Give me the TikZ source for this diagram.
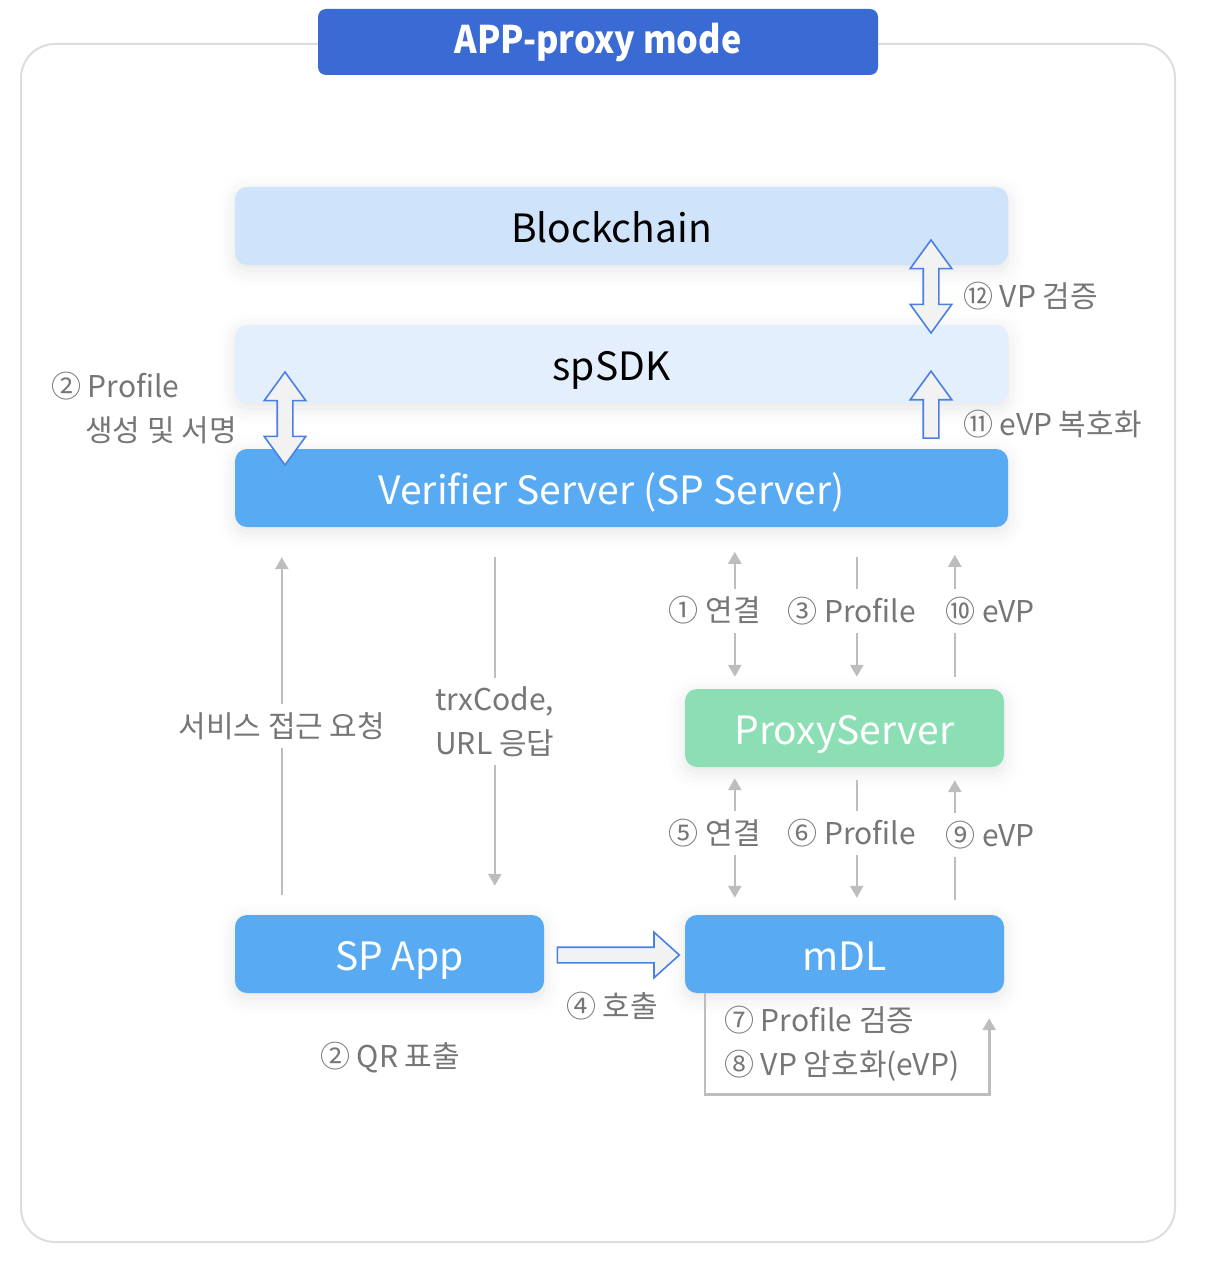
\documentclass[tikz,border=0pt]{standalone}
\usepackage{fontspec}
\setmainfont{Noto Sans CJK KR}
\usepackage{tikz}
\usetikzlibrary{arrows.meta}
\usetikzlibrary{positioning}
\usetikzlibrary{calc}
\usetikzlibrary{shapes.arrows}
\usetikzlibrary{shadows.blur}

\definecolor{titleblue}{HTML}{3A6BD4}
\definecolor{chainblue}{HTML}{CFE3FA}
\definecolor{sdkblue}{HTML}{E3EFFC}
\definecolor{srvblue}{HTML}{58AAF2}
\definecolor{proxygreen}{HTML}{8CDFB4}
\definecolor{hollowblue}{HTML}{4A80E4}
\definecolor{hollowfill}{HTML}{F2F2F2}
\definecolor{linegray}{HTML}{BDBDBD}
\definecolor{labelgray}{HTML}{767676}
\definecolor{framegray}{HTML}{DDDDDD}

\begin{document}
\begin{tikzpicture}[x=1pt,y=-1pt,>={Triangle[width=13pt,length=12pt]},
    box/.style={rounded corners=12pt, minimum width=773pt, minimum height=78pt,
      inner sep=0pt, text height=40pt, text depth=7pt, font=\fontsize{39}{47}\selectfont,
      blur shadow={shadow xshift=0pt, shadow yshift=-5pt, shadow blur radius=16pt, shadow opacity=10}},
    nudge/.style={execute at begin node={\hspace*{#1}}},
    titlebox/.style={fill=titleblue, rounded corners=8pt, minimum width=560pt, minimum height=66pt,
      text=white, font=\fontsize{38}{44}\selectfont\bfseries\addfontfeature{FakeStretch=0.9}},
    hollow/.style={draw=hollowblue, fill=hollowfill, line width=1.6pt, inner sep=7pt, rotate=90},
    dblarrow/.style={hollow, double arrow, double arrow head extend=13pt, double arrow tip angle=72},
    onearrow/.style={hollow, single arrow, single arrow head extend=13pt, single arrow tip angle=72},
    gline/.style={draw=linegray, line width=2.6pt},
    lbl/.style={text=labelgray, font=\fontsize{30}{44}\selectfont, inner xsep=4pt, inner ysep=8pt},
    gap/.style={lbl, fill=white}]
    \useasboundingbox (0,0) rectangle (1206,1268);

    \draw[draw=framegray, line width=2pt, rounded corners=34pt] (21,44) rectangle (1175,1242);
    \node[titlebox] (title) at (598,42) {APP-proxy mode};

    \node[box, fill=chainblue, nudge=-20pt] (chain) at (621.5,226) {Blockchain};
    \node[box, fill=sdkblue, nudge=-20pt] (sdk) at (621.5,364) {spSDK};
    \node[box, fill=srvblue, text=white, nudge=-20pt] (verifier) at (621.5,488) {Verifier Server (SP Server)};
    \node[box, fill=proxygreen, text=white, minimum width=319pt] (proxy) at (844.5,728) {ProxyServer};
    \node[box, fill=srvblue, text=white, minimum width=309pt, nudge=20pt] (spapp) at (389.5,954) {SP App};
    \node[box, fill=srvblue, text=white, minimum width=319pt] (mdl) at (844.5,954) {mDL};

    % hollow arrows
    \node[dblarrow, minimum height=93pt] (vpcheck) at (931,286.5) {};
    \node[onearrow, minimum height=67pt] (evpdec) at (931,410) {};
    \node[dblarrow, minimum height=93pt] (profsign) at (285,418.5) {};
    \node[onearrow, rotate=-90, minimum height=122pt, single arrow head extend=15pt, single arrow tip angle=84] (call) at (614,955) {};

    \node[lbl, anchor=west] (vplbl) at (959,296) {⑫ VP 검증};
    \node[lbl, anchor=west] (evplbl) at (959,424) {⑪ eVP 복호화};
    \node[lbl, anchor=west, align=left] (proflbl) at (47,408) {② Profile\\\hspace*{34pt}생성 및 서명};
    \node[lbl] (calllbl) at (612,1006) {④ 호출};
    \node[lbl] (qrlbl) at (390,1058) {② QR 표출};
    \node[lbl, anchor=west, align=left] (checklbl) at (720,1044) {⑦ Profile 검증\\⑧ VP 암호화(eVP)};

    % SP App <-> Verifier
    \draw[gline,->] ($(spapp.north west)+(47,-20)$) -- node[gap] {서비스 접근 요청} ($(verifier.south west)+(47,30)$);
    \draw[gline,->] ($(verifier.south west)+(260,30)$) -- node[gap, align=center] {trxCode,\\URL 응답} ($(spapp.north west)+(260,-29)$);

    % Verifier <-> ProxyServer
    \draw[gline,<->] ($(proxy.north west)+(50,-137)$) -- node[gap, pos=0.47, xshift=-20pt] {① 연결} ($(proxy.north west)+(50,-12)$);
    \draw[gline,->] ($(proxy.north west)+(172,-132)$) -- node[gap, pos=0.45, xshift=-5pt] {③ Profile} ($(proxy.north west)+(172,-12)$);
    \draw[gline,->] ($(proxy.north west)+(270,-12)$) -- node[gap, pos=0.54, xshift=35pt] {⑩ eVP} ($(proxy.north west)+(270,-134)$);

    % ProxyServer <-> mDL
    \draw[gline,<->] ($(proxy.south west)+(50,11)$) -- node[gap, pos=0.46, xshift=-20pt] {⑤ 연결} ($(mdl.north west)+(50,-17)$);
    \draw[gline,->] ($(proxy.south west)+(172,13)$) -- node[gap, pos=0.45, xshift=-5pt] {⑥ Profile} ($(mdl.north west)+(172,-17)$);
    \draw[gline,->] ($(mdl.north west)+(270,-15)$) -- node[gap, pos=0.54, xshift=35pt] {⑨ eVP} ($(proxy.south west)+(270,13)$);

    % mDL self loop
    \draw[gline,->] ($(mdl.south west)+(20,0)$) -- ++(0,101) -| ($(mdl.south east)+(-15,25)$);
\end{tikzpicture}
\end{document}
